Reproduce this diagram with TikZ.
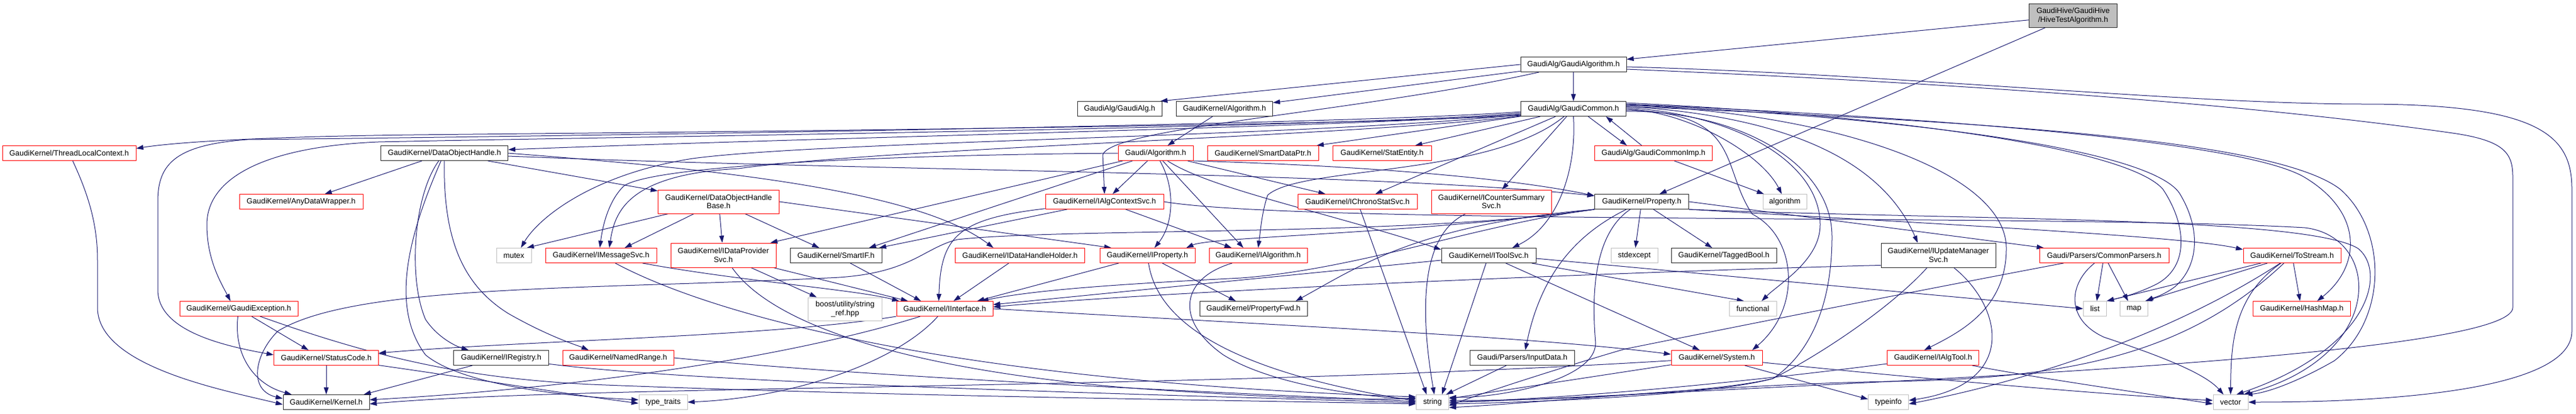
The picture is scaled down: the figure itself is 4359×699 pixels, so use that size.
\documentclass[tikz,border=0pt]{standalone}
\usepackage{fontspec}
\setmainfont{Liberation Sans}
\usetikzlibrary{arrows.meta,calc,backgrounds}
\definecolor{edgec}{HTML}{191970}
\definecolor{gry}{HTML}{BFBFBF}
\newcommand{\gfont}{\fontsize{12.9}{14.7}\selectfont}
\begin{document}
\begin{tikzpicture}[x=1pt,y=-1pt,
 nbase/.style={draw, fill=white, line width=1pt, inner sep=0pt, minimum height=25pt, align=center, font=\gfont},
 nblk/.style={nbase, draw=black!85},
 nred/.style={nbase, draw=red},
 ngry/.style={nbase, draw=gry},
 nroot/.style={nbase, draw=black!85, fill=gry},
 two/.style={minimum height=40pt},
 e/.style={draw=edgec, line width=1pt, -{Triangle[length=12pt,width=8pt]}}]
\useasboundingbox (0,0) rectangle (4359,699);
% ---------------- nodes ----------------
\node[nroot,two,minimum width=149pt] (root) at (3508,26.5) {GaudiHive/GaudiHive\\/HiveTestAlgorithm.h};
\node[nblk,minimum width=179pt] (galgo) at (2662.5,109) {GaudiAlg/GaudiAlgorithm.h};
\node[nblk,minimum width=143pt] (galg) at (1894.5,184) {GaudiAlg/GaudiAlg.h};
\node[nblk,minimum width=163pt] (kalgo) at (2072,184) {GaudiKernel/Algorithm.h};
\node[nblk,minimum width=178pt] (gcommon) at (2662.5,184) {GaudiAlg/GaudiCommon.h};
\node[nred,minimum width=226pt] (tlc) at (117,259) {GaudiKernel/ThreadLocalContext.h};
\node[nblk,minimum width=215pt] (doh) at (752,259) {GaudiKernel/DataObjectHandle.h};
\node[nred,minimum width=127pt] (gaudialgo) at (1955.5,259) {Gaudi/Algorithm.h};
\node[nred,minimum width=188pt] (sdp) at (2137,259) {GaudiKernel/SmartDataPtr.h};
\node[nred,minimum width=167pt] (statent) at (2338.5,259) {GaudiKernel/StatEntity.h};
\node[nred,minimum width=199pt] (gcimp) at (2798,259) {GaudiAlg/GaudiCommonImp.h};
\node[nred,minimum width=209pt] (adw) at (509.5,341) {GaudiKernel/AnyDataWrapper.h};
\node[nred,two,minimum width=205pt] (dohb) at (1216,341) {GaudiKernel/DataObjectHandle\\Base.h};
\node[nred,minimum width=200pt] (iacs) at (1869,341) {GaudiKernel/IAlgContextSvc.h};
\node[nred,minimum width=202pt] (icss) at (2297,341) {GaudiKernel/IChronoStatSvc.h};
\node[nred,two,minimum width=203pt] (icsum) at (2523.5,341) {GaudiKernel/ICounterSummary\\Svc.h};
\node[nblk,minimum width=159pt] (prop) at (2778,341) {GaudiKernel/Property.h};
\node[ngry,minimum width=74pt] (algorithm) at (3020,341) {algorithm};
\node[ngry,minimum width=59pt] (mutex) at (869.5,432) {mutex};
\node[nred,minimum width=188pt] (imsg) at (1017,432) {GaudiKernel/IMessageSvc.h};
\node[nred,two,minimum width=178pt,minimum height=41pt] (idps) at (1224,431.5) {GaudiKernel/IDataProvider\\Svc.h};
\node[nblk,minimum width=155pt] (smartif) at (1414.5,432) {GaudiKernel/SmartIF.h};
\node[nred,minimum width=219pt] (idhh) at (1726,432) {GaudiKernel/IDataHandleHolder.h};
\node[nred,minimum width=161pt] (iprop) at (1941.5,432) {GaudiKernel/IProperty.h};
\node[nred,minimum width=166pt] (ialg) at (2129,432) {GaudiKernel/IAlgorithm.h};
\node[nblk,minimum width=160pt] (itool) at (2519,432) {GaudiKernel/IToolSvc.h};
\node[ngry,minimum width=79pt] (stdexcept) at (2765.5,432) {stdexcept};
\node[nblk,minimum width=178pt] (tagged) at (2917,432) {GaudiKernel/TaggedBool.h};
\node[nblk,two,minimum width=194pt,minimum height=41pt] (iums) at (3280,431.5) {GaudiKernel/IUpdateManager\\Svc.h};
\node[nred,minimum width=219pt] (cparse) at (3560.5,432) {Gaudi/Parsers/CommonParsers.h};
\node[nred,minimum width=165pt] (tostream) at (3878.5,432) {GaudiKernel/ToStream.h};
\node[nred,minimum width=200pt] (gexc) at (404,522) {GaudiKernel/GaudiException.h};
\node[ngry,two,minimum width=125pt,minimum height=39pt] (boost) at (1430,522.5) {boost/utility/string\\\_ref.hpp};
\node[nred,minimum width=163pt] (iint) at (1598.5,522) {GaudiKernel/IInterface.h};
\node[nblk,minimum width=182pt] (pfwd) at (2121,522) {GaudiKernel/PropertyFwd.h};
\node[ngry,minimum width=80pt] (functional) at (2966,522) {functional};
\node[ngry,minimum width=39pt] (list) at (3545,522) {list};
\node[ngry,minimum width=47pt] (map) at (3611,522) {map};
\node[nred,minimum width=165pt] (hashmap) at (3895,522) {GaudiKernel/HashMap.h};
\node[nred,minimum width=177pt] (status) at (552,605) {GaudiKernel/StatusCode.h};
\node[nblk,minimum width=161pt] (ireg) at (848,605) {GaudiKernel/IRegistry.h};
\node[nred,minimum width=188pt] (nrange) at (1046,605) {GaudiKernel/NamedRange.h};
\node[nblk,minimum width=177pt] (inputdata) at (2576,605) {Gaudi/Parsers/InputData.h};
\node[nred,minimum width=154pt] (system) at (2905,605) {GaudiKernel/System.h};
\node[nred,minimum width=155pt] (ialgtool) at (3271,605) {GaudiKernel/IAlgTool.h};
\node[nblk,minimum width=146pt] (kernel) at (552,680) {GaudiKernel/Kernel.h};
\node[ngry,minimum width=82pt] (typetraits) at (1122,680) {type\_traits};
\node[ngry,minimum width=55pt] (string) at (2424,680) {string};
\node[ngry,minimum width=68pt] (typeinfo) at (3195.5,680) {typeinfo};
\node[ngry,minimum width=59pt] (vector) at (3774.5,680) {vector};
% ---------------- edges ----------------
\begin{scope}[on background layer]
% root
\draw[e] (root) -- (galgo);
\draw[e] (root) -- (prop);
% GaudiAlgorithm.h
\draw[e] (galgo.west) -- ($(galg.north east)+(-3,0)$);
\draw[e] (galgo) -- (kalgo);
\draw[e] (galgo) -- (gcommon);
\draw[e] ($(galgo.east)+(0,4)$) .. controls (3200,125) and (3700,176) .. (4000,176) .. controls (4300,176) and (4352,230) .. (4352,320) -- (4352,560) .. controls (4352,650) and (4100,680) .. (vector.east);
\draw[e] ($(galgo.east)+(0,8)$) .. controls (3300,140) and (3800,175) .. (4150,225) .. controls (4240,238) and (4252,260) .. (4252,300) -- (4252,520) .. controls (4252,580) and (3700,620) .. (3100,650) .. controls (2800,665) and (2550,678) .. (string.east);
\draw[e] (galgo) .. controls (2300,190) and (1880,215) .. (1866,262) -- (iacs.north);
% Algorithm.h
\draw[e] (kalgo) -- (gaudialgo);
% GaudiCommon.h
\draw[e] ($(gcommon.south west)+(0,-2)$) .. controls (2300,212) and (1300,222) .. (700,228) .. controls (450,231) and (300,240) .. ($(tlc.east)+(0,-8)$);
\draw[e] ($(gcommon.south west)+(0,-4)$) .. controls (2300,214) and (1400,232) .. ($(doh.east)+(0,-6)$);
\draw[e] ($(gcommon.south west)+(0,-6)$) .. controls (2300,216) and (1000,232) .. (640,240) .. controls (450,248) and (350,300) .. (350,380) .. controls (350,440) and (375,480) .. ($(gexc.north)+(-14,0)$);
\draw[e] ($(gcommon.south west)+(0,-8)$) .. controls (2300,210) and (1000,230) .. (418,236) .. controls (300,245) and (267,275) .. (267,340) -- (267,490) .. controls (267,560) and (380,585) .. ($(status.west)+(0,-5)$);
\draw[e] ($(gcommon.south west)+(0,-1)$) .. controls (2300,230) and (1500,250) .. (1250,285) .. controls (1060,295) and (1040,360) .. ($(imsg.north)+(14,0)$);
\draw[e] ($(gcommon.south west)+(0,-3)$) .. controls (2200,232) and (1400,238) .. (1172,268) .. controls (1000,295) and (910,370) .. ($(mutex.north)+(12,0)$);
\draw[e] (gcommon) -- (sdp);
\draw[e] (gcommon) -- (statent);
\draw[e] ($(gcommon.south)+(25,0)$) -- ($(gcimp.north)+(-45,0)$);
\draw[e] ($(gcimp.north)+(-20,0)$) -- ($(gcommon.south)+(55,0)$);
\draw[e] (gcimp) -- (algorithm);
\draw[e] (gcommon) -- (icss);
\draw[e] (gcommon) -- (icsum);
\draw[e] (gcommon.south) .. controls (2668,280) and (2640,380) .. ($(itool.north)+(40,0)$);
\draw[e] (gcommon) .. controls (2520,300) and (2200,280) .. (2145,330) .. controls (2135,360) and (2133,390) .. (ialg.north);
\draw[e] (gcommon.east) .. controls (2860,190) and (2980,260) .. ($(algorithm.north)+(-5,0)$);
\draw[e] ($(gcommon.east)+(0,-2)$) .. controls (2950,195) and (3080,280) .. (3080,380) .. controls (3080,440) and (3010,480) .. ($(functional.north)+(15,0)$);
\draw[e] ($(gcommon.east)+(0,2)$) .. controls (2950,190) and (2910,280) .. (2965,362) .. controls (3040,400) and (3050,520) .. ($(system.north)+(60,0)$);
\draw[e] ($(gcommon.east)+(0,4)$) .. controls (2950,188) and (3100,280) .. (3100,400) .. controls (3100,520) and (3060,600) .. (3000,640) .. controls (2900,665) and (2600,678) .. ($(string.east)+(0,-3)$);
\draw[e] ($(gcommon.east)+(0,-4)$) .. controls (3000,195) and (3180,260) .. ($(iums.north)+(-35,0)$);
\draw[e] ($(gcommon.east)+(0,-6)$) .. controls (3100,190) and (3395,290) .. (3395,420) .. controls (3395,520) and (3320,560) .. ($(ialgtool.north)+(-15,0)$);
\draw[e] ($(gcommon.north east)+(0,3)$) .. controls (3200,195) and (3600,250) .. (3660,320) .. controls (3700,380) and (3705,450) .. (3650,480) .. controls (3610,500) and (3580,505) .. (list.north east);
\draw[e] ($(gcommon.north east)+(0,6)$) .. controls (3250,200) and (3650,255) .. (3690,330) .. controls (3725,390) and (3720,450) .. (3680,485) .. controls (3660,500) and (3640,505) .. ($(map.north east)+(-3,0)$);
\draw[e] ($(gcommon.east)+(0,-8)$) .. controls (3300,200) and (3800,240) .. (3900,300) .. controls (4000,360) and (3995,450) .. ($(hashmap.north)+(26,0)$);
\draw[e] ($(gcommon.north east)+(0,9)$) .. controls (3350,205) and (3850,235) .. (3960,320) .. controls (4040,390) and (4040,540) .. (3950,610) .. controls (3880,650) and (3830,665) .. ($(vector.north east)+(-5,0)$);
% Gaudi/Algorithm.h
\draw[e] (gaudialgo) -- (iacs);
\draw[e] (gaudialgo) .. controls (1990,320) and (1985,380) .. ($(iprop.north)+(12,0)$);
\draw[e] (gaudialgo) -- ($(ialg.north)+(-25,0)$);
\draw[e] (gaudialgo.west) .. controls (1500,262) and (1100,280) .. (1055,315) .. controls (1030,340) and (1020,380) .. ($(imsg.north)+(-2,0)$);
\draw[e] (gaudialgo.south east) .. controls (2300,280) and (2550,300) .. ($(prop.north west)+(0,3)$);
\draw[e] (gaudialgo) -- (icss);
\draw[e] (gaudialgo) .. controls (2050,320) and (2250,360) .. ($(itool.north west)+(0,3)$);
\draw[e] (gaudialgo) -- ($(idps.north east)+(-10,0)$);
\draw[e] (gaudialgo) -- ($(smartif.north east)+(-22,0)$);
% IAlgContextSvc.h
\draw[e] (iacs) .. controls (1620,370) and (1592,400) .. ($(iint.north)+(-10,0)$);
\draw[e] (iacs) -- ($(smartif.north east)+(-5,0)$);
\draw[e] (iacs) -- ($(ialg.north)+(-45,0)$);
\draw[e] (iacs.east) .. controls (2200,380) and (3500,362) .. (3900,385) .. controls (4030,400) and (4040,600) .. ($(vector.north)+(22,0)$);
% IChronoStatSvc.h, ICounterSummarySvc.h
\draw[e] (icss) -- ($(string.north)+(-10,0)$);
\draw[e] (icsum) .. controls (2420,390) and (2395,480) .. ($(string.north)+(3,0)$);
% IToolSvc.h
\draw[e] (itool) -- ($(iint.east)+(0,-7)$);
\draw[e] (itool) -- ($(string.north)+(16,0)$);
\draw[e] (itool) -- (system);
\draw[e] ($(itool.east)+(0,5)$) -- (list.west);
\draw[e] (itool) -- ($(functional.north)+(-15,0)$);
% IProperty.h
\draw[e] (iprop) -- ($(iint.north)+(55,0)$);
\draw[e] (iprop) .. controls (1955,520) and (2030,620) .. ($(string.west)+(0,-2)$);
\draw[e] (iprop) -- ($(pfwd.north)+(-30,0)$);
% IAlgorithm.h
\draw[e] (ialg) .. controls (2000,470) and (1985,540) .. (2070,600) .. controls (2150,650) and (2300,670) .. ($(string.west)+(0,-5)$);
% IDataHandleHolder, IDataProviderSvc, SmartIF, IMessageSvc
\draw[e] (idhh) -- ($(iint.north)+(15,0)$);
\draw[e] (idps) -- ($(iint.north west)+(20,0)$);
\draw[e] (idps) -- ($(boost.north west)+(15,0)$);
\draw[e] (idps) .. controls (1300,540) and (1500,620) .. (1900,655) .. controls (2100,670) and (2300,678) .. ($(string.west)+(0,-7)$);
\draw[e] (smartif) -- ($(iint.north)+(-40,0)$);
\draw[e] (imsg) .. controls (1250,475) and (1450,490) .. ($(iint.north west)+(5,0)$);
\draw[e] (imsg) .. controls (1200,530) and (1600,645) .. ($(string.west)+(0,-9)$);
% DataObjectHandleBase.h
\draw[e] (dohb) -- ($(mutex.north east)+(-8,0)$);
\draw[e] (dohb) -- ($(imsg.north)+(40,0)$);
\draw[e] (dohb) -- (idps);
\draw[e] (dohb) -- (smartif);
\draw[e] (dohb.east) -- ($(iprop.north west)+(20,0)$);
% DataObjectHandle.h
\draw[e] (doh) -- ($(adw.north)+(40,0)$);
\draw[e] (doh) -- (dohb);
\draw[e] (doh) .. controls (700,330) and (690,470) .. (720,540) .. controls (740,570) and (770,585) .. ($(ireg.north)+(-55,0)$);
\draw[e] (doh) .. controls (750,400) and (780,480) .. (860,530) .. controls (930,570) and (980,585) .. ($(nrange.north)+(-50,0)$);
\draw[e] (doh) .. controls (690,400) and (660,520) .. (720,600) .. controls (780,650) and (950,670) .. ($(typetraits.west)+(0,-4)$);
\draw[e] (doh.east) .. controls (1200,285) and (1550,320) .. ($(idhh.north)+(-45,0)$);
\draw[e] ($(doh.east)+(0,5)$) .. controls (1500,290) and (2300,290) .. ($(prop.west)+(0,-10)$);
% GaudiException.h
\draw[e] (gexc) -- ($(status.north)+(-30,0)$);
\draw[e] (gexc) .. controls (395,600) and (430,650) .. ($(kernel.north west)+(15,0)$);
\draw[e] (gexc) .. controls (650,610) and (800,640) .. (1000,650) .. controls (1500,670) and (2100,677) .. ($(string.west)+(0,3)$);
% StatusCode.h
\draw[e] (status) -- (kernel);
\draw[e] (status) .. controls (800,640) and (950,665) .. ($(typetraits.west)+(0,2)$);
% ThreadLocalContext.h
\draw[e] (tlc) .. controls (150,330) and (165,380) .. (165,440) -- (165,520) .. controls (165,620) and (380,660) .. ($(kernel.west)+(0,4)$);
% IRegistry.h, NamedRange.h
\draw[e] (ireg) -- ($(kernel.north east)+(-10,0)$);
\draw[e] (ireg) .. controls (1200,650) and (2000,668) .. ($(string.west)+(0,1)$);
\draw[e] (nrange.east) .. controls (1500,640) and (2100,665) .. ($(string.west)+(0,-1)$);
% IInterface.h
\draw[e] (iint.south west) .. controls (1300,570) and (900,575) .. ($(status.east)+(0,-8)$);
\draw[e] (iint) .. controls (1350,600) and (1000,655) .. ($(kernel.east)+(0,-4)$);
\draw[e] (iint) .. controls (1520,610) and (1350,672) .. (typetraits.east);
\draw[e] (iint.east) .. controls (2200,552) and (2600,570) .. ($(system.west)+(0,-6)$);
% System.h
\draw[e] (system) .. controls (2000,660) and (1000,650) .. ($(kernel.east)+(0,3)$);
\draw[e] (system) -- ($(string.east)+(0,-6)$);
\draw[e] (system) -- ($(typeinfo.west)+(0,-5)$);
\draw[e] (system) .. controls (3300,645) and (3600,670) .. ($(vector.west)+(0,-3)$);
% IAlgTool.h
\draw[e] (ialgtool) .. controls (3000,640) and (2700,672) .. (string.east);
\draw[e] (ialgtool) .. controls (3450,640) and (3650,668) .. ($(vector.west)+(0,3)$);
% IUpdateManagerSvc.h
\draw[e] ($(iums.south west)+(0,-4)$) .. controls (2800,458) and (2000,490) .. ($(iint.east)+(0,-3)$);
\draw[e] (iums) .. controls (3200,520) and (3080,600) .. (3000,640) .. controls (2900,668) and (2600,680) .. ($(string.east)+(0,3)$);
\draw[e] (iums) .. controls (3390,520) and (3415,650) .. ($(typeinfo.east)+(0,-3)$);
% Property.h
\draw[e] (prop.south west) .. controls (2400,395) and (2050,400) .. ($(iprop.north east)+(-15,0)$);
\draw[e] (prop.south west) .. controls (2400,380) and (2300,450) .. ($(pfwd.north east)+(-20,0)$);
\draw[e] (prop) .. controls (2690,400) and (2695,520) .. (2700,580) .. controls (2700,640) and (2550,672) .. ($(string.east)+(0,-8)$);
\draw[e] (prop) -- (stdexcept);
\draw[e] (prop) -- (tagged);
\draw[e] (prop) .. controls (2680,390) and (2610,450) .. ($(inputdata.north)+(5,0)$);
\draw[e] (prop.east) -- ($(cparse.north west)+(8,0)$);
\draw[e] (prop.south east) .. controls (3300,380) and (3700,400) .. ($(tostream.north west)+(0,3)$);
\draw[e] (prop.south west) .. controls (2500,380) and (2300,455) .. (2100,470) .. controls (1900,480) and (1750,490) .. ($(iint.north east)+(-20,0)$);
\draw[e] (prop.south west) .. controls (2400,400) and (1800,385) .. (1620,405) .. controls (1560,420) and (1540,465) .. (1400,470) .. controls (1000,490) and (600,480) .. (470,560) .. controls (430,600) and (420,660) .. ($(kernel.west)+(0,-6)$);
\draw[e] (prop.south east) .. controls (3300,372) and (3900,365) .. (3990,420) .. controls (4040,460) and (4010,590) .. ($(vector.north)+(10,0)$);
% InputData.h
\draw[e] (inputdata) -- ($(string.north east)+(-5,0)$);
% CommonParsers.h
\draw[e] (cparse) -- ($(list.north)+(3,0)$);
\draw[e] (cparse) -- ($(map.north)+(-10,0)$);
\draw[e] (cparse) .. controls (3500,480) and (3495,540) .. (3560,570) .. controls (3650,600) and (3730,630) .. ($(vector.north)+(-12,0)$);
\draw[e] (cparse) .. controls (3200,500) and (2900,560) .. (2750,590) .. controls (2680,610) and (2520,660) .. ($(string.east)+(0,6)$);
% ToStream.h
\draw[e] (tostream) -- (list.north east);
\draw[e] (tostream) -- ($(map.north east)+(-5,0)$);
\draw[e] (tostream) -- ($(hashmap.north)+(-3,0)$);
\draw[e] (tostream) .. controls (3780,500) and (3775,580) .. (vector.north);
\draw[e] (tostream) .. controls (3700,600) and (3500,640) .. (3200,645) .. controls (2900,650) and (2600,682) .. ($(string.east)+(0,9)$);
\draw[e] (tostream) .. controls (3650,580) and (3400,650) .. ($(typeinfo.east)+(0,3)$);
\end{scope}
\end{tikzpicture}
\end{document}
